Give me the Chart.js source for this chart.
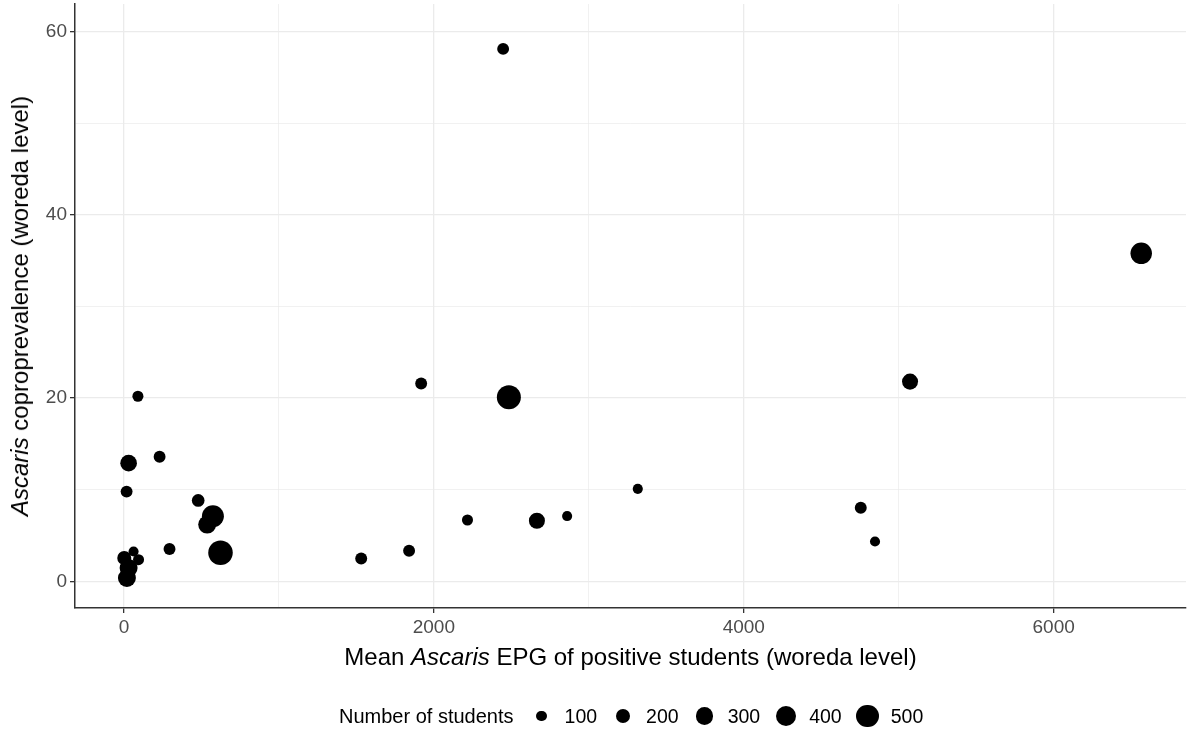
<!DOCTYPE html>
<html>
<head>
<meta charset="utf-8">
<script src="https://cdn.jsdelivr.net/npm/chart.js@4.4.1/dist/chart.umd.min.js"></script>
<style>
  body { margin: 0; background: #fff; }
  #wrap { position: relative; width: 1192px; height: 734px; font-family: "Liberation Sans", Arial, sans-serif; color: #000; }
  #myCanvas { position: absolute; left: 0; top: 0; }
  .xTitle { position: absolute; left: 75px; width: 1111px; top: 643px; text-align: center; font-size: 24px; white-space: nowrap; }
  .yTitle { position: absolute; left: 20px; top: 306px; transform: translate(-50%, -50%) rotate(-90deg); font-size: 24px; white-space: nowrap; }
  .legendDiv { position: absolute; left: 339px; top: 703px; height: 26px; display: flex; align-items: center; }
  .legendTitle { font-size: 20px; margin-right: 15px; }
  .legendKey { width: 26px; height: 26px; display: flex; align-items: center; justify-content: center; }
  .legendDot { background: #000; border-radius: 50%; display: block; }
  .legendLabel { font-size: 19.5px; margin-left: 10px; margin-right: 13px; }
</style>
</head>
<body>
<div id="wrap">
  <canvas id="myCanvas" width="1192" height="734"></canvas>
  <div class="xTitle">Mean <i>Ascaris</i> EPG of positive students (woreda level)</div>
  <div class="yTitle"><i>Ascaris</i> coproprevalence (woreda level)</div>
  <div class="legendDiv"></div>
</div>
<script>
// one entry per woreda
const meanEpg = [2447, 6565, 5073, 1918, 2484, 90, 30, 230, 17, 3316, 479, 574, 537, 623, 294,
  1531, 1840, 2217, 2665, 2860, 4755, 4847, 62, 94, 2, 30, 19];
const prevalence = [58.1, 35.8, 21.8, 21.6, 20.1, 20.2, 12.9, 13.6, 9.8, 10.1, 8.84, 7.1, 6.2, 3.13, 3.53,
  2.5, 3.35, 6.7, 6.62, 7.13, 8.04, 4.36, 3.27, 2.37, 2.55, 1.46, 0.37];
const students = [130, 450, 245, 130, 565, 110, 265, 130, 130, 90, 150, 470, 310, 590, 130,
  130, 130, 110, 245, 90, 130, 90, 90, 110, 185, 310, 310];

const xMajorTicks = [0, 2000, 4000, 6000];
const xMinorTicks = [1000, 3000, 5000];
const yMajorTicks = [0, 20, 40, 60];
const yMinorTicks = [10, 30, 50];
const legendSizes = [100, 200, 300, 400, 500];

const fontFamily = '"Liberation Sans", Arial, sans-serif';

// area of the dot grows with number of students
function sizeRadius(n) {
  return Math.sqrt(3 + 0.25 * n);
}

let points = meanEpg.map((x, i) => ({ x: x, y: prevalence[i], r: sizeRadius(students[i]) }));

function isMajor(ctx, majors) {
  return ctx.tick && majors.includes(ctx.tick.value);
}

function gridScale(majors, minors, min, max, fitFn) {
  return {
    type: "linear",
    min: min,
    max: max,
    afterBuildTicks: (scale) => {
      scale.ticks = majors.concat(minors).sort((a, b) => a - b).map((v) => ({ value: v }));
    },
    afterFit: (s) => {
      fitFn(s);
      // no extra room for overhanging labels
      s.paddingTop = 0;
      s.paddingBottom = 0;
      s.paddingLeft = 0;
      s.paddingRight = 0;
    },
    grid: {
      color: "#ebebeb",
      lineWidth: (ctx) => (isMajor(ctx, majors) ? 1.3 : 0.7),
      tickColor: (ctx) => (isMajor(ctx, majors) ? "#333333" : "rgba(0,0,0,0)"),
      tickLength: 5,
      tickWidth: 1.3,
    },
    border: { color: "#333333", width: 1.5 },
    ticks: {
      autoSkip: false,
      maxRotation: 0,
      color: "#4d4d4d",
      padding: 3,
      font: { family: fontFamily, size: 19 },
      callback: (v) => (majors.includes(v) ? String(v) : ""),
    },
  };
}

const myChart = new Chart(document.querySelector("#myCanvas"), {
  type: "bubble",
  data: {
    datasets: [
      {
        label: "Number of students",
        data: points,
        backgroundColor: "#000000",
        borderWidth: 0,
        hoverRadius: 0,
        hoverBorderWidth: 0,
        clip: false,
      },
    ],
  },
  options: {
    responsive: false,
    animation: false,
    devicePixelRatio: 1,
    layout: { autoPadding: false, padding: { top: 4, right: 6, bottom: 86, left: 0 } },
    plugins: { legend: { display: false }, tooltip: { enabled: false } },
    scales: {
      x: gridScale(xMajorTicks, xMinorTicks, -316, 6854, (s) => { s.height = 40; }),
      y: gridScale(yMajorTicks, yMinorTicks, -2.9, 63, (s) => { s.width = 75; }),
    },
  },
});

// legend of dot sizes
let legendDiv = document.querySelector(".legendDiv");
let legendTitle = document.createElement("span");
legendTitle.className = "legendTitle";
legendTitle.innerText = "Number of students";
legendDiv.append(legendTitle);
legendSizes.forEach((n) => {
  let key = document.createElement("span");
  key.className = "legendKey";
  let dot = document.createElement("span");
  dot.className = "legendDot";
  let d = 2 * sizeRadius(n);
  dot.style.width = d + "px";
  dot.style.height = d + "px";
  key.append(dot);
  let label = document.createElement("span");
  label.className = "legendLabel";
  label.innerText = n;
  legendDiv.append(key, label);
});
</script>
</body>
</html>
